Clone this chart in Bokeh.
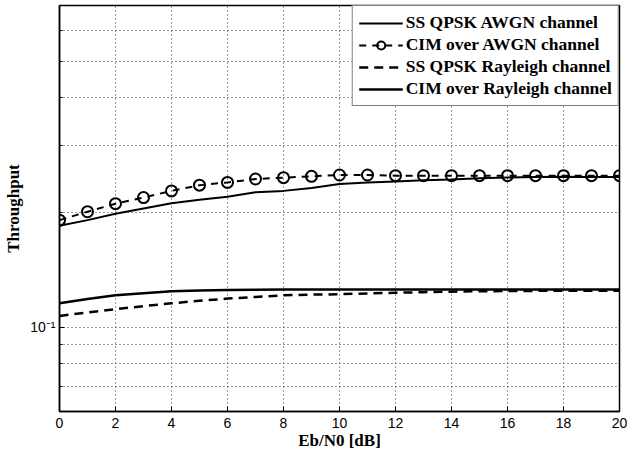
from bokeh.plotting import figure
from bokeh.models import FixedTicker, CustomJSTickFormatter, Range1d
from bokeh.embed import file_html
from bokeh.resources import INLINE

ebn0 = list(range(0, 21))

ss_qpsk_awgn = [0.1846, 0.191, 0.1986, 0.205, 0.2116, 0.216, 0.220, 0.226, 0.228, 0.232,
                0.2377, 0.240, 0.2414, 0.243, 0.2443, 0.246, 0.2472, 0.248, 0.2485, 0.248, 0.248]
cim_awgn = [0.191, 0.201, 0.211, 0.219, 0.228, 0.236, 0.240, 0.245, 0.247, 0.249,
            0.251, 0.251, 0.250, 0.250, 0.250, 0.250, 0.250, 0.250, 0.250, 0.250, 0.250]
ss_qpsk_rayleigh = [0.107, 0.1092, 0.1114, 0.1135, 0.1155, 0.1172, 0.1188, 0.1200, 0.1212, 0.1217,
                    0.1220, 0.1226, 0.1231, 0.1235, 0.1239, 0.1242, 0.1244, 0.1245, 0.1245, 0.1246, 0.1246]
cim_rayleigh = [0.1155, 0.1185, 0.1212, 0.1228, 0.1242, 0.1248, 0.1251, 0.1254, 0.1255, 0.1255,
                0.1255, 0.1255, 0.1256, 0.1256, 0.1256, 0.1256, 0.1256, 0.1256, 0.1256, 0.1256, 0.1256]

x_ticks = [0, 2, 4, 6, 8, 10, 12, 14, 16, 18, 20]
y_major = [0.1]
y_minor = [0.06, 0.07, 0.08, 0.09, 0.2, 0.3, 0.4, 0.5, 0.6, 0.7]

p = figure(width=633, height=452, y_axis_type="log",
           x_range=Range1d(0, 20), y_range=Range1d(0.06, 0.7),
           output_backend="svg", toolbar_location=None,
           min_border_left=59, min_border_right=14, min_border_top=5, min_border_bottom=40)

p.outline_line_color = "black"
p.outline_line_width = 1.5
p.background_fill_color = "white"
p.border_fill_color = "white"

# lines
p.line(ebn0, ss_qpsk_awgn, line_color="black", line_width=2, legend_label="SS QPSK AWGN channel")
p.line(ebn0, cim_awgn, line_color="black", line_width=2, line_dash="7 6", legend_label="CIM over AWGN channel")
p.scatter(ebn0, cim_awgn, marker="circle", size=11, fill_color=None, line_color="black",
          line_width=2, legend_label="CIM over AWGN channel")
p.line(ebn0, ss_qpsk_rayleigh, line_color="black", line_width=2.5, line_dash="9 6",
       legend_label="SS QPSK Rayleigh channel")
p.line(ebn0, cim_rayleigh, line_color="black", line_width=2.5, legend_label="CIM over Rayleigh channel")

# axes
p.xaxis.ticker = FixedTicker(ticks=x_ticks)
p.yaxis.ticker = FixedTicker(ticks=y_major, minor_ticks=y_minor)
p.yaxis.formatter = CustomJSTickFormatter(code="return Math.abs(tick - 0.1) < 1e-9 ? '10\u207b\u00b9' : '';")

for ax in (p.xaxis[0], p.yaxis[0]):
    ax.axis_line_color = "black"
    ax.axis_line_width = 1.5
    ax.major_tick_in = 5
    ax.major_tick_out = 0
    ax.major_tick_line_color = "black"
    ax.minor_tick_in = 3
    ax.minor_tick_out = 0
    ax.minor_tick_line_color = "black"
    ax.major_label_text_font = "Liberation Sans"
    ax.major_label_text_font_size = "14px"
    ax.major_label_text_color = "black"
    ax.axis_label_text_font = "Liberation Serif"
    ax.axis_label_text_font_style = "bold"
    ax.axis_label_text_font_size = "17px"
    ax.axis_label_text_color = "black"

p.xaxis.axis_label = "Eb/N0 [dB]"
p.yaxis.axis_label = "Throughput"
p.xaxis.major_label_standoff = 6
p.xaxis.axis_label_standoff = 0
p.yaxis.major_label_standoff = 4
p.yaxis.axis_label_standoff = 4
p.xaxis.minor_tick_line_color = None

# grid
for g in (p.xgrid[0], p.ygrid[0]):
    g.grid_line_color = "#333333"
    g.grid_line_dash = "1 3"
    g.grid_line_width = 1
p.ygrid.minor_grid_line_color = "#333333"
p.ygrid.minor_grid_line_dash = "1 3"
p.ygrid.minor_grid_line_width = 1

# legend
lg = p.legend[0]
lg.location = "top_right"
lg.margin = 0
lg.padding = 6
lg.spacing = 1
lg.glyph_width = 44
lg.glyph_height = 20
lg.label_height = 20
lg.label_standoff = 3
lg.label_text_font = "Liberation Serif"
lg.label_text_font_style = "bold"
lg.label_text_font_size = "17.5px"
lg.label_text_color = "black"
lg.border_line_color = "black"
lg.border_line_width = 1.5
lg.background_fill_color = "white"
lg.background_fill_alpha = 1

open("out.html", "w").write(file_html(p, INLINE))
